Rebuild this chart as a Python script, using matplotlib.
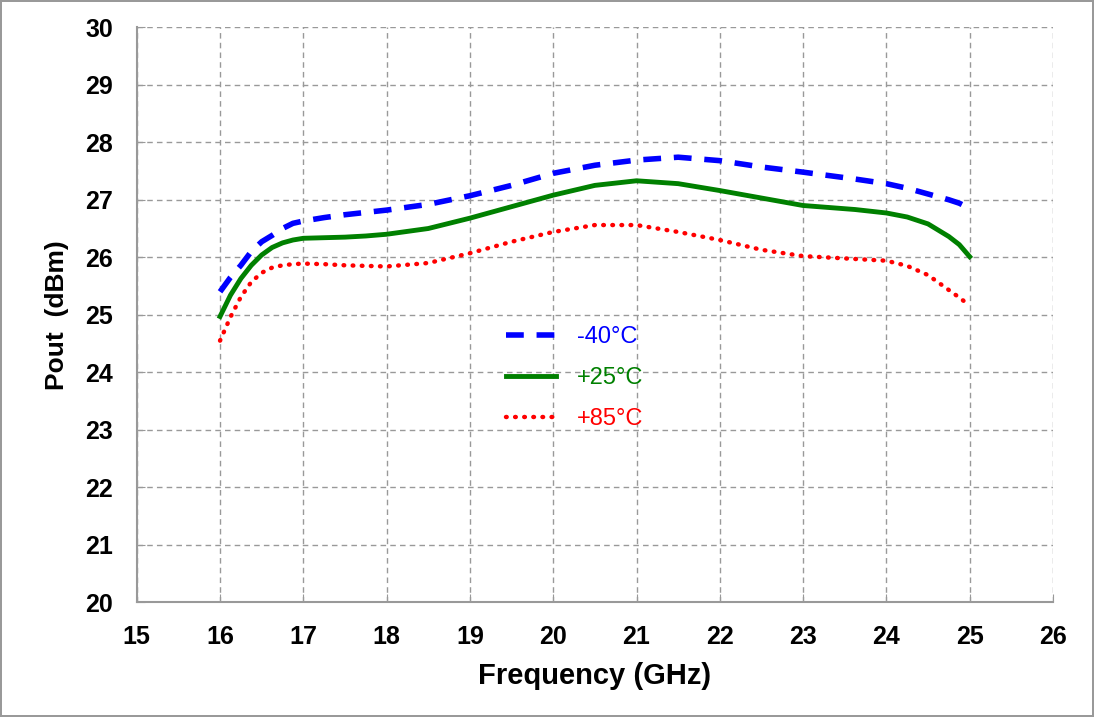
import matplotlib.pyplot as plt

# Datos (GHz, dBm)
freq = [16, 16.125, 16.25, 16.375, 16.5, 16.625, 16.75, 16.875, 17, 17.25, 17.5, 17.75, 18,
        18.5, 19, 19.5, 20, 20.5, 21, 21.5, 22, 22.5, 23, 23.625, 24, 24.25, 24.5, 24.75,
        24.875, 25]
pout_m40 = [25.4, 25.65, 25.86, 26.1, 26.27, 26.38, 26.5, 26.59, 26.63, 26.69, 26.74, 26.78,
            26.82, 26.92, 27.07, 27.25, 27.46, 27.6, 27.69, 27.74, 27.68, 27.57, 27.48, 27.36,
            27.28, 27.2, 27.1, 27.0, 26.94, 26.85]
pout_25 = [24.97, 25.34, 25.63, 25.86, 26.04, 26.17, 26.25, 26.3, 26.33, 26.34, 26.35, 26.37,
           26.4, 26.5, 26.68, 26.88, 27.08, 27.25, 27.33, 27.28, 27.16, 27.03, 26.9, 26.83,
           26.77, 26.7, 26.58, 26.36, 26.22, 26.01]
pout_85 = [24.55, 24.96, 25.31, 25.57, 25.73, 25.82, 25.86, 25.88, 25.89, 25.88, 25.86, 25.85,
           25.84, 25.9, 26.07, 26.27, 26.44, 26.56, 26.56, 26.44, 26.3, 26.13, 26.02, 25.97,
           25.94, 25.85, 25.69, 25.43, 25.3, 25.16]
labels = ['-40°C', '+25°C', '+85°C']

plt.rcParams['font.family'] = ['Liberation Sans', 'DejaVu Sans']

fig = plt.figure(figsize=(10.94, 7.17), dpi=100)
fig.patch.set_edgecolor('#999999')
fig.patch.set_linewidth(1.5)
ax = fig.add_axes([0.125, 0.160, 0.8375, 0.802])

ax.plot(freq, pout_m40, color='#0000ff', lw=4, linestyle=(0, (3.2, 2.3)), label=labels[0])
ax.plot(freq, pout_25, color='#008000', lw=3.5, label=labels[1])
ax.plot(freq, pout_85, color='#ff0000', lw=3.2, linestyle=(0, (0.15, 1.9)),
        dash_capstyle='round', label=labels[2])

ax.set_xlim(15, 26)
ax.set_ylim(20, 30)
ax.set_xticks(range(15, 27))
ax.set_yticks(range(20, 31))
ax.grid(True, color='#999999', linestyle=(0, (4, 3)), lw=1)
for s in ['top', 'right']:
    ax.spines[s].set_visible(False)
for s in ['left', 'bottom']:
    ax.spines[s].set_color('#999999')
    ax.spines[s].set_linewidth(1.5)
ax.tick_params(direction='in', length=6, color='#999999', labelsize=18)
ax.tick_params(axis='y', pad=17)
ax.tick_params(axis='x', pad=16)
for t in ax.get_xticklabels() + ax.get_yticklabels():
    t.set_fontweight('bold')

ax.set_xlabel('Frequency (GHz)', fontsize=21, fontweight='bold', labelpad=10)
ax.set_ylabel('Pout  (dBm)', fontsize=19, fontweight='bold', labelpad=12)

leg = ax.legend(loc='upper left', bbox_to_anchor=(0.38, 0.517), frameon=False,
                fontsize=17, handlelength=2.1, labelspacing=0.8, handletextpad=0.9,
                labelcolor='linecolor')

fig.savefig('out.png', dpi=100)
